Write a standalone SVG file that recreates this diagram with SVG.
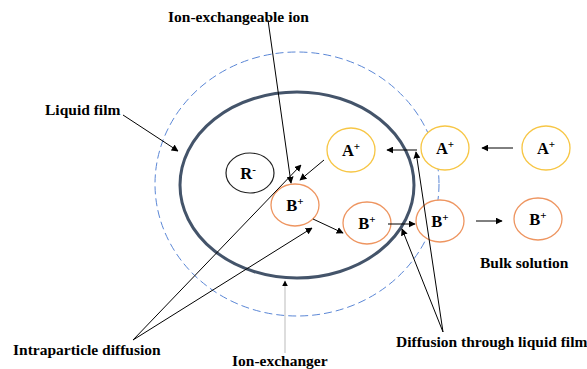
<svg xmlns="http://www.w3.org/2000/svg" width="587" height="369" viewBox="0 0 587 369">
<defs>
<marker id="ah" viewBox="0 0 10 10" refX="9" refY="5" markerWidth="7" markerHeight="7" markerUnits="userSpaceOnUse" orient="auto"><path d="M0,0 L10,5 L0,10 z" fill="#000"/></marker>
<marker id="ahg" viewBox="0 0 10 10" refX="9" refY="5" markerWidth="6" markerHeight="6" markerUnits="userSpaceOnUse" orient="auto"><path d="M0,0 L10,5 L0,10 z" fill="#000"/></marker>
</defs>
<style>
text{font-family:"Liberation Serif","Times New Roman",serif;font-weight:bold;fill:#000}
.lbl{font-size:15.5px}
.ion{font-size:16.5px;text-anchor:middle}
.sup{font-size:11px}
.a{fill:#fff;stroke:#f7c645;stroke-width:1.3}
.b{fill:#fff;stroke:#ee9560;stroke-width:1.3}
.ln{stroke:#000;stroke-width:1;fill:none;marker-end:url(#ah)}
</style>
<rect width="587" height="369" fill="#fff"/>
<g id="liquid-film-boundary"><ellipse cx="297" cy="184" rx="142" ry="132" fill="none" stroke="#5b87d6" stroke-width="1" stroke-dasharray="8,4"/></g>
<g id="ion-exchanger-particle"><ellipse cx="297" cy="185" rx="117" ry="93" fill="none" stroke="#44546a" stroke-width="3"/></g>
<g id="R"><ellipse cx="250" cy="173" rx="24" ry="20" fill="#fff" stroke="#222" stroke-width="1.2"/><text class="ion" x="248" y="179">R<tspan class="sup" dy="-6">-</tspan></text></g>
<g id="A-inner"><ellipse class="a" cx="351" cy="150" rx="24" ry="22"/><text class="ion" x="351" y="156">A<tspan class="sup" dy="-6">+</tspan></text></g>
<g id="A-film"><ellipse class="a" cx="445" cy="148" rx="24" ry="22"/><text class="ion" x="445" y="154">A<tspan class="sup" dy="-6">+</tspan></text></g>
<g id="A-bulk"><ellipse class="a" cx="546" cy="148" rx="24" ry="22"/><text class="ion" x="546" y="154">A<tspan class="sup" dy="-6">+</tspan></text></g>
<g id="B-inner"><ellipse class="b" cx="295" cy="205" rx="24" ry="21"/><text class="ion" x="295" y="211">B<tspan class="sup" dy="-6">+</tspan></text></g>
<g id="B-surface"><ellipse class="b" cx="367" cy="223" rx="24" ry="21"/><text class="ion" x="367" y="229">B<tspan class="sup" dy="-6">+</tspan></text></g>
<g id="B-film"><ellipse class="b" cx="440" cy="221" rx="24" ry="21"/><text class="ion" x="440" y="227">B<tspan class="sup" dy="-6">+</tspan></text></g>
<g id="B-bulk"><ellipse class="b" cx="538" cy="219" rx="24" ry="21"/><text class="ion" x="538" y="225">B<tspan class="sup" dy="-6">+</tspan></text></g>
<g id="labels">
<text class="lbl" x="168" y="22">Ion-exchangeable ion</text>
<text class="lbl" x="45" y="115">Liquid film</text>
<text class="lbl" x="13" y="355">Intraparticle diffusion</text>
<text class="lbl" x="232" y="366">Ion-exchanger</text>
<text class="lbl" x="396" y="347">Diffusion through liquid film</text>
<text class="lbl" x="480" y="268">Bulk solution</text>
</g>
<g id="connectors">
<line class="ln" x1="513" y1="148" x2="482" y2="148"/>
<line class="ln" x1="417" y1="150" x2="387" y2="150"/>
<line class="ln" x1="324" y1="160" x2="300" y2="180"/>
<line class="ln" x1="313" y1="219" x2="343" y2="233"/>
<line class="ln" x1="388" y1="224" x2="415" y2="224"/>
<line class="ln" x1="476" y1="221" x2="502" y2="221"/>
<line class="ln" x1="268" y1="20" x2="291" y2="183"/>
<line class="ln" x1="123" y1="115" x2="178" y2="151"/>
<line class="ln" x1="133" y1="340" x2="301" y2="165"/>
<line class="ln" x1="133" y1="340" x2="312" y2="228"/>
<line class="ln" x1="443" y1="332" x2="402" y2="229"/>
<line class="ln" x1="443" y1="332" x2="416" y2="152"/>
<line x1="285" y1="353" x2="285" y2="281" stroke="#bbb" stroke-width="1" marker-end="url(#ahg)"/>
</g>
</svg>
